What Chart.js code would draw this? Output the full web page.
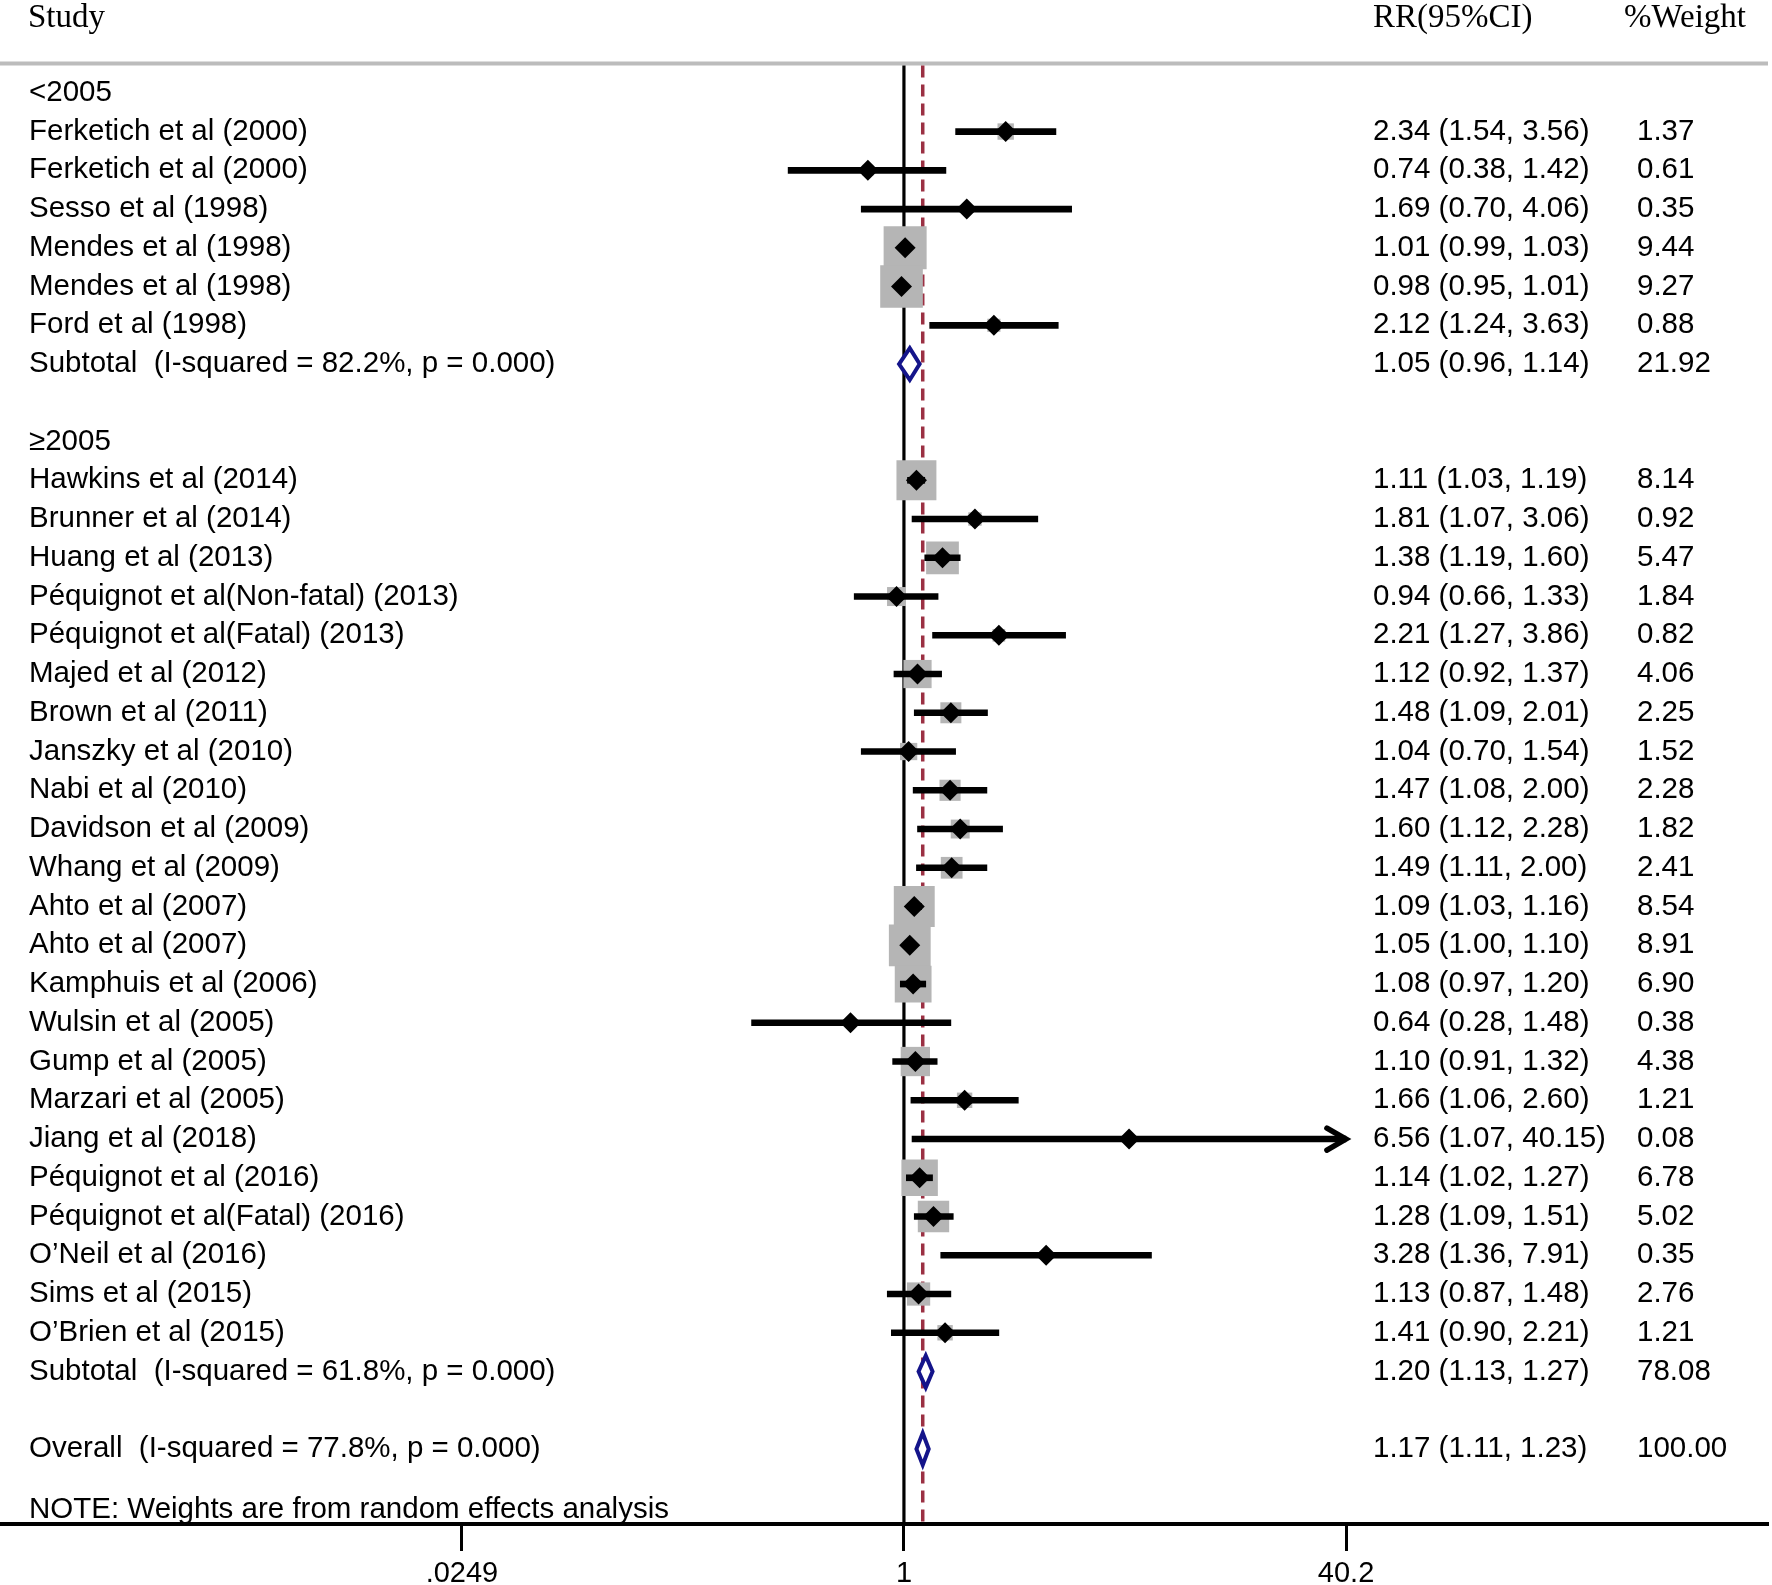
<!DOCTYPE html>
<html>
<head>
<meta charset="utf-8">
<script src="https://cdn.jsdelivr.net/npm/chart.js@4.4.1/dist/chart.umd.min.js"></script>
<style>
  html, body { margin: 0; padding: 0; background: #fff; }
  #wrap { width: 1772px; height: 1585px; }
</style>
</head>
<body>
<div id="wrap"><canvas id="forest" width="1772" height="1585"></canvas></div>
<script>
// study level data
const groupNames = ['<2005', '≥2005'];

const studiesA = [
  'Ferketich et al (2000)', 'Ferketich et al (2000)', 'Sesso et al (1998)',
  'Mendes et al (1998)', 'Mendes et al (1998)', 'Ford et al (1998)'
];
const rrA     = [2.34, 0.74, 1.69, 1.01, 0.98, 2.12];
const lowA    = [1.54, 0.38, 0.70, 0.99, 0.95, 1.24];
const highA   = [3.56, 1.42, 4.06, 1.03, 1.01, 3.63];
const weightA = [1.37, 0.61, 0.35, 9.44, 9.27, 0.88];

const studiesB = [
  'Hawkins et al (2014)', 'Brunner et al (2014)', 'Huang et al (2013)',
  'Péquignot et al(Non-fatal) (2013)', 'Péquignot et al(Fatal) (2013)', 'Majed et al (2012)',
  'Brown et al (2011)', 'Janszky et al (2010)', 'Nabi et al (2010)', 'Davidson et al (2009)',
  'Whang et al (2009)', 'Ahto et al (2007)', 'Ahto et al (2007)', 'Kamphuis et al (2006)',
  'Wulsin et al (2005)', 'Gump et al (2005)', 'Marzari et al (2005)', 'Jiang et al (2018)',
  'Péquignot et al (2016)', 'Péquignot et al(Fatal) (2016)', 'O’Neil et al (2016)',
  'Sims et al (2015)', 'O’Brien et al (2015)'
];
const rrB     = [1.11, 1.81, 1.38, 0.94, 2.21, 1.12, 1.48, 1.04, 1.47, 1.60, 1.49, 1.09, 1.05, 1.08, 0.64, 1.10, 1.66, 6.56, 1.14, 1.28, 3.28, 1.13, 1.41];
const lowB    = [1.03, 1.07, 1.19, 0.66, 1.27, 0.92, 1.09, 0.70, 1.08, 1.12, 1.11, 1.03, 1.00, 0.97, 0.28, 0.91, 1.06, 1.07, 1.02, 1.09, 1.36, 0.87, 0.90];
const highB   = [1.19, 3.06, 1.60, 1.33, 3.86, 1.37, 2.01, 1.54, 2.00, 2.28, 2.00, 1.16, 1.10, 1.20, 1.48, 1.32, 2.60, 40.15, 1.27, 1.51, 7.91, 1.48, 2.21];
const weightB = [8.14, 0.92, 5.47, 1.84, 0.82, 4.06, 2.25, 1.52, 2.28, 1.82, 2.41, 8.54, 8.91, 6.90, 0.38, 4.38, 1.21, 0.08, 6.78, 5.02, 0.35, 2.76, 1.21];

const summaryLabels = [
  'Subtotal  (I-squared = 82.2%, p = 0.000)',
  'Subtotal  (I-squared = 61.8%, p = 0.000)',
  'Overall  (I-squared = 77.8%, p = 0.000)'
];
const summaryRR     = [1.05, 1.20, 1.17];
const summaryLow    = [0.96, 1.13, 1.11];
const summaryHigh   = [1.14, 1.27, 1.23];
const summaryWeight = [21.92, 78.08, 100.00];

const xTicks = [0.0249, 1, 40.2];
const xTickLabels = ['.0249', '1', '40.2'];
const noteText = 'NOTE: Weights are from random effects analysis';

// lay the rows out top to bottom
const rows = [];
let r = 0;
function addGroup(name, labels, rr, lo, hi, w, s) {
  rows.push({ kind: 'group', text: name, y: r++ });
  labels.forEach((t, i) => rows.push({ kind: 'study', text: t, rr: rr[i], lo: lo[i], hi: hi[i], w: w[i], y: r++ }));
  rows.push({ kind: 'summary', text: summaryLabels[s], rr: summaryRR[s], lo: summaryLow[s], hi: summaryHigh[s], w: summaryWeight[s], y: r++ });
  r++;
}
addGroup(groupNames[0], studiesA, rrA, lowA, highA, weightA, 0);
addGroup(groupNames[1], studiesB, rrB, lowB, highB, weightB, 1);
rows.push({ kind: 'summary', text: summaryLabels[2], rr: summaryRR[2], lo: summaryLow[2], hi: summaryHigh[2], w: summaryWeight[2], y: r++ });

const studies = rows.filter(d => d.kind === 'study');
const summaries = rows.filter(d => d.kind === 'summary');
const overall = summaries[summaries.length - 1];

const HEADER_ROW = -1.92;
const HEADER_LINE_ROW = -0.755;
const NOTE_ROW = 36.58;

const SANS = '"Liberation Sans", Arial, sans-serif';
const SERIF = '"Liberation Serif", "Times New Roman", serif';

const forestDecor = {
  id: 'forestDecor',
  beforeDatasetsDraw(chart) {
    const { ctx, chartArea, scales: { x, y } } = chart;
    const top = y.getPixelForValue(HEADER_LINE_ROW);
    ctx.save();
    // header rule
    ctx.strokeStyle = '#bcbcbc';
    ctx.lineWidth = 4;
    ctx.beginPath();
    ctx.moveTo(chartArea.left, top);
    ctx.lineTo(chartArea.right, top);
    ctx.stroke();
    // null line
    ctx.strokeStyle = '#000';
    ctx.lineWidth = 3.2;
    ctx.beginPath();
    ctx.moveTo(x.getPixelForValue(1), top + 2);
    ctx.lineTo(x.getPixelForValue(1), chartArea.bottom);
    ctx.stroke();
    // overall estimate line
    ctx.strokeStyle = '#9b3043';
    ctx.lineWidth = 3.5;
    ctx.setLineDash([12, 7]);
    ctx.beginPath();
    ctx.moveTo(x.getPixelForValue(overall.rr), top + 2);
    ctx.lineTo(x.getPixelForValue(overall.rr), chartArea.bottom);
    ctx.stroke();
    ctx.restore();
  },
  afterDatasetsDraw(chart) {
    const { ctx, scales: { x, y } } = chart;
    ctx.save();
    // pooled diamonds
    const half = 0.41;
    summaries.forEach(s => {
      ctx.beginPath();
      ctx.moveTo(x.getPixelForValue(s.lo), y.getPixelForValue(s.y));
      ctx.lineTo(x.getPixelForValue(s.rr), y.getPixelForValue(s.y - half));
      ctx.lineTo(x.getPixelForValue(s.hi), y.getPixelForValue(s.y));
      ctx.lineTo(x.getPixelForValue(s.rr), y.getPixelForValue(s.y + half));
      ctx.closePath();
      ctx.fillStyle = '#fff';
      ctx.fill();
      ctx.strokeStyle = '#14148a';
      ctx.lineWidth = 4;
      ctx.stroke();
    });
    // arrow where the interval runs past the last tick
    studies.filter(s => s.hi >= xTicks[2] * 0.99).forEach(s => {
      const px = x.getPixelForValue(s.hi);
      const py = y.getPixelForValue(s.y);
      ctx.strokeStyle = '#000';
      ctx.lineWidth = 5.5;
      ctx.lineCap = 'round';
      ctx.beginPath();
      ctx.moveTo(px - 19, py - 11);
      ctx.lineTo(px, py);
      ctx.lineTo(px - 19, py + 11);
      ctx.stroke();
    });

    // text columns
    ctx.fillStyle = '#000';
    ctx.textBaseline = 'middle';
    ctx.textAlign = 'left';
    ctx.font = '33px ' + SERIF;
    const hy = y.getPixelForValue(HEADER_ROW);
    ctx.fillText('Study', 28, hy);
    ctx.fillText('RR(95%CI)', 1373, hy);
    ctx.fillText('%Weight', 1624, hy);

    ctx.font = '29.5px ' + SANS;
    rows.forEach(d => {
      const py = y.getPixelForValue(d.y);
      ctx.fillText(d.text, 29, py);
      if (d.kind === 'group') return;
      ctx.fillText(`${d.rr.toFixed(2)} (${d.lo.toFixed(2)}, ${d.hi.toFixed(2)})`, 1373, py);
      ctx.fillText(d.w.toFixed(2), 1637, py);
    });
    ctx.fillText(noteText, 29, y.getPixelForValue(NOTE_ROW));
    ctx.restore();
  }
};

new Chart(document.getElementById('forest'), {
  type: 'scatter',
  data: {
    datasets: [
      {
        label: 'weights',
        data: studies.map(s => ({ x: s.rr, y: s.y })),
        pointStyle: 'rect',
        pointRadius: ctx => 9.9 * Math.sqrt(studies[ctx.dataIndex].w),
        backgroundColor: '#b5b5b5',
        borderWidth: 0,
        order: 3
      },
      {
        type: 'bar',
        label: 'ci',
        indexAxis: 'y',
        data: studies.map(s => ({ x: [s.lo, Math.min(s.hi, xTicks[2])], y: s.y })),
        barThickness: 6,
        backgroundColor: '#000',
        borderWidth: 0,
        order: 2
      },
      {
        label: 'estimate',
        data: studies.map(s => ({ x: s.rr, y: s.y })),
        pointStyle: 'rectRot',
        pointRadius: 10.5,
        backgroundColor: '#000',
        borderWidth: 0,
        order: 1
      }
    ]
  },
  options: {
    responsive: false,
    animation: false,
    devicePixelRatio: 1,
    layout: { autoPadding: false, padding: { left: 0, right: 4, top: 0, bottom: 0 } },
    plugins: {
      legend: { display: false },
      tooltip: { enabled: false }
    },
    scales: {
      x: {
        type: 'logarithmic',
        min: 0.000525,
        max: 1365,
        offset: false,
        beginAtZero: false,
        afterBuildTicks(scale) {
          scale.ticks = xTicks.map(v => ({ value: v }));
        },
        afterFit(scale) {
          scale.height = 61;
        },
        ticks: {
          color: '#000',
          padding: 6,
          maxRotation: 0,
          font: { family: 'Liberation Sans', size: 29 },
          callback(value) {
            const i = xTicks.indexOf(value);
            return i >= 0 ? xTickLabels[i] : '';
          }
        },
        grid: {
          display: true,
          offset: false,
          drawOnChartArea: false,
          drawTicks: true,
          tickLength: 27,
          tickWidth: 3,
          tickColor: '#000'
        },
        border: { display: true, color: '#000', width: 4 }
      },
      y: {
        type: 'linear',
        display: false,
        reverse: true,
        offset: false,
        grid: { offset: false },
        min: -2.395,
        max: 36.935
      }
    }
  },
  plugins: [forestDecor]
});
</script>
</body>
</html>
